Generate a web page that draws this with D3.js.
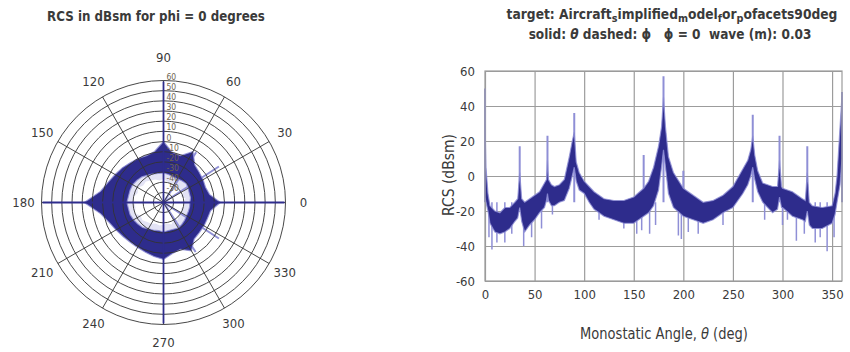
<!DOCTYPE html>
<html>
<head>
<meta charset="utf-8">
<script src="https://cdn.jsdelivr.net/npm/d3@7"></script>
<style>
  html, body { margin: 0; padding: 0; background: #fff; }
  svg { display: block; }
  text { font-family: "DejaVu Sans", "Liberation Sans", sans-serif; font-stretch: condensed; fill: #3a3a3a; white-space: pre; }
</style>
</head>
<body>
<svg id="chart" width="850" height="352"></svg>
<script>
// polar plot (left), dB per angle
const polarAngles = [0, 10, 20, 30, 40, 50, 60, 70, 80, 90, 100, 110, 120, 130, 140, 150, 160, 170,
  180, 190, 200, 210, 220, 230, 240, 250, 260, 270, 280, 290, 300, 310, 320, 330, 340, 350]
const polarOuter = [-4, -14, -16, -15, -14, -12, -2, -11, -10, 0, -9, -11, -10, -9, -7, -5, -2, 3,
  18, 3, -3, -6, -8, -9, -9, -8, -6, -4, -9, -11, -5, -13, -14, -14, -14, -13]
const polarInner = [-34, -33, -33, -32, -31, -32, -33, -33, -32, -31, -31, -30, -29, -27, -26, -25, -25, -25,
  -24, -25, -25, -26, -27, -28, -30, -31, -32, -31, -32, -32, -31, -32, -33, -34, -34, -34]
const polarHaze = [-40, -38, -42, -36, -40, -44, -38, -40, -39, -37, -38, -36, -35, -33, -34, -31, -33, -30,
  -31, -32, -30, -34, -33, -35, -36, -38, -37, -38, -39, -37, -40, -38, -41, -39, -42, -40]
const polarSpikeAngles = [0, 90, 180, 270]
const polarSpikeValues = [59, 59, 59, 59]
const polarLightAngles = [33, 327, 57, 303]
const polarLightValues = [5, 5, -1, -2]
const polarTicks = [0, 30, 60, 90, 120, 150, 180, 210, 240, 270, 300, 330]
const ringValues = [-50, -40, -30, -20, -10, 0, 10, 20, 30, 40, 50, 60]

// monostatic sweep (right), dark band edges
const rcsAngles = [0, 1, 3, 5, 10, 15, 20, 25, 30, 33, 35, 37, 40, 45, 50, 55, 60, 62, 63, 64,
  67, 70, 75, 80, 85, 88, 90, 92, 95, 100, 105, 110, 120, 130, 140, 150, 160, 165, 170, 175,
  178, 180, 182, 185, 190, 200, 210, 220, 230, 240, 250, 260, 265, 268, 270, 272, 275, 280, 290, 295,
  297, 299, 300, 310, 320, 323, 325, 327, 330, 340, 350, 353, 355, 358, 360]
const rcsUpper = [30, 5, -10, -17, -20, -21, -18, -18, -15, -13, 2, -13, -15, -13, -11, -9, -4, -2, 9, -2,
  -5, -6, -5, -2, 11, 20, 25, 8, 2, -3, -6, -9, -13, -14, -14, -12, -7, -3, 5, 17,
  28, 45, 28, 11, 2, -7, -11, -15, -14, -11, -6, 4, 9, 15, 23, 12, 3, -4, -6, -6,
  9, -6, -7, -9, -13, -14, 2, -15, -17, -18, -17, -10, 0, 28, 46]
const rcsLower = [-12, -15, -20, -27, -32, -33, -32, -30, -26, -24, -18, -26, -32, -28, -25, -21, -18, -14, -10, -14,
  -17, -17, -15, -14, -7, 0, 5, -3, -8, -10, -15, -19, -23, -25, -27, -27, -23, -21, -17, -8,
  5, 15, 5, -10, -18, -23, -25, -27, -25, -21, -18, -10, -5, 0, 5, -2, -9, -15, -21, -19,
  -12, -18, -18, -23, -25, -26, -20, -28, -30, -30, -27, -22, -15, -5, 10]
// faint strokes above / below the band
const peakAngles = [0, 35, 63, 90, 160, 180, 200, 270, 297, 325, 360]
const peakTops = [50, 17, 23, 36, 12, 57, 3, 35, 23, 17, 48]
const dipAngles = [4, 7, 12, 20, 27, 39, 47, 57, 68, 115, 140, 153, 158, 166, 172, 195, 198, 205, 215, 240,
  282, 300, 305, 314, 322, 333, 338, 345, 352]
const dipBottoms = [-35, -42, -38, -38, -33, -40, -35, -30, -22, -25, -30, -33, -31, -33, -28, -34, -36, -32, -33, -28,
  -25, -28, -25, -37, -33, -38, -35, -43, -35]
const xTicks = [0, 50, 100, 150, 200, 250, 300, 350]
const yTicks = [-60, -40, -20, 0, 20, 40, 60]

const DARK = '#2e2c8c'
const LIGHT = '#8f8fd6'
const GRID = '#9c9c9c'

const svg = d3.select('#chart')

// squeeze a text element to the width it has in the picture
function fitText(sel, cx, cy, width, rotate) {
  const w = sel.node().getComputedTextLength()
  const k = width / w
  sel.attr('x', 0).attr('y', 0)
    .attr('transform', `translate(${cx},${cy})${rotate ? ` rotate(${rotate})` : ''} scale(${k},1)`)
}

// ---------- polar ----------
const cx = 163.5, cy = 202.5, R = 122
const rScale = d3.scaleLinear().domain([-60, 60]).range([0, R])
const toRad = d => (90 - d) * Math.PI / 180
const gPolar = svg.append('g').attr('transform', `translate(${cx},${cy})`)

const ring = vals => d3.lineRadial()
  .angle(i => toRad(polarAngles[i]))
  .radius(i => rScale(vals[i]))
  .curve(d3.curveLinearClosed)(d3.range(polarAngles.length))

// faint inner fringe
gPolar.append('path')
  .attr('d', ring(polarInner) + ring(polarHaze))
  .attr('fill', LIGHT).attr('fill-opacity', 0.25).attr('fill-rule', 'evenodd')

polarLightAngles.forEach((a, i) => {
  gPolar.append('line')
    .attr('x1', 0).attr('y1', 0)
    .attr('x2', rScale(polarLightValues[i]) * Math.cos(a * Math.PI / 180))
    .attr('y2', -rScale(polarLightValues[i]) * Math.sin(a * Math.PI / 180))
    .attr('stroke', LIGHT).attr('stroke-width', 2)
})

gPolar.append('path')
  .attr('d', ring(polarOuter) + ring(polarInner))
  .attr('fill', DARK).attr('fill-rule', 'evenodd')
  .attr('stroke', LIGHT).attr('stroke-width', 1.2).attr('stroke-opacity', 0.8)

// grid
ringValues.forEach(v => {
  gPolar.append('circle').attr('r', rScale(v))
    .attr('fill', 'none').attr('stroke', '#333').attr('stroke-width', 0.9)
})
polarTicks.forEach(a => {
  gPolar.append('line')
    .attr('x1', 0).attr('y1', 0)
    .attr('x2', R * Math.cos(a * Math.PI / 180))
    .attr('y2', -R * Math.sin(a * Math.PI / 180))
    .attr('stroke', '#333').attr('stroke-width', 0.9)
})

polarSpikeAngles.forEach((a, i) => {
  gPolar.append('line')
    .attr('x1', 0).attr('y1', 0)
    .attr('x2', rScale(polarSpikeValues[i]) * Math.cos(a * Math.PI / 180))
    .attr('y2', -rScale(polarSpikeValues[i]) * Math.sin(a * Math.PI / 180))
    .attr('stroke', DARK).attr('stroke-width', 1.8)
})

ringValues.forEach(v => {
  gPolar.append('text')
    .attr('x', 3).attr('y', -rScale(v) - 1)
    .attr('font-size', 8.5).style('fill', '#6e6450')
    .text(v)
})

polarTicks.forEach(a => {
  const rr = a === 90 ? 145 : 140
  gPolar.append('text')
    .attr('x', rr * Math.cos(a * Math.PI / 180))
    .attr('y', -rr * Math.sin(a * Math.PI / 180))
    .attr('text-anchor', 'middle').attr('dominant-baseline', 'central')
    .attr('font-size', 13)
    .text(a)
})

const t1 = svg.append('text')
  .attr('text-anchor', 'middle').attr('font-size', 14).attr('font-weight', 'bold')
  .text('RCS in dBsm for phi = 0 degrees')
fitText(t1, 156, 21, 218)

// ---------- cartesian ----------
const x = d3.scaleLinear().domain([0, 360]).range([485, 842])
const y = d3.scaleLinear().domain([-60, 60]).range([281, 71])
const gPlot = svg.append('g')

gPlot.append('g')
  .attr('transform', `translate(0,${y(-60)})`)
  .call(d3.axisBottom(x).tickValues(xTicks).tickFormat(d => String(d))
    .tickSize(-(y(-60) - y(60))).tickPadding(9))
  .call(g => g.select('.domain').remove())
  .call(g => g.selectAll('line').attr('stroke', GRID).attr('stroke-width', 1.2))
  .call(g => g.selectAll('text').attr('font-size', 13).style('fill', '#3a3a3a'))

gPlot.append('g')
  .attr('transform', `translate(${x(0)},0)`)
  .call(d3.axisLeft(y).tickValues(yTicks).tickFormat(d => String(d))
    .tickSize(-(x(360) - x(0))).tickPadding(10))
  .call(g => g.select('.domain').remove())
  .call(g => g.selectAll('line').attr('stroke', GRID).attr('stroke-width', 1.2))
  .call(g => g.selectAll('text').attr('font-size', 13).style('fill', '#3a3a3a'))
gPlot.selectAll('g').attr('font-family', null)

// faint strokes
peakAngles.forEach((a, i) => {
  gPlot.append('line')
    .attr('x1', x(a)).attr('x2', x(a))
    .attr('y1', y(peakTops[i])).attr('y2', y(-15))
    .attr('stroke', LIGHT).attr('stroke-width', 2)
})
dipAngles.forEach((a, i) => {
  gPlot.append('line')
    .attr('x1', x(a)).attr('x2', x(a))
    .attr('y1', y(dipBottoms[i])).attr('y2', y(-15))
    .attr('stroke', LIGHT).attr('stroke-width', 1.5)
})

const band = d3.area()
  .x(i => x(rcsAngles[i]))
  .y0(i => y(rcsLower[i]))
  .y1(i => y(rcsUpper[i]))
gPlot.append('path')
  .attr('d', band(d3.range(rcsAngles.length)))
  .attr('fill', DARK)
  .attr('stroke', LIGHT).attr('stroke-width', 1.2).attr('stroke-opacity', 0.8)

gPlot.append('rect')
  .attr('x', x(0)).attr('y', y(60))
  .attr('width', x(360) - x(0)).attr('height', y(-60) - y(60))
  .attr('fill', 'none').attr('stroke', GRID).attr('stroke-width', 1.2)

// titles
const l1 = svg.append('text').attr('text-anchor', 'middle').attr('font-size', 14).attr('font-weight', 'bold')
const parts = [['target: Aircraft', false], ['s', true], ['implified', false], ['m', true], ['odel', false],
  ['f', true], ['or', false], ['p', true], ['ofacets90deg', false]]
let shift = 0
parts.forEach(([s, sub]) => {
  const want = sub ? 3 : 0
  l1.append('tspan').text(s)
    .attr('font-size', sub ? 11 : 14)
    .attr('dy', want - shift)
  shift = want
})
fitText(l1, 672, 19, 331)

const l2 = svg.append('text').attr('text-anchor', 'middle').attr('font-size', 14).attr('font-weight', 'bold')
l2.append('tspan').text('solid: ')
l2.append('tspan').text('θ').attr('font-style', 'italic')
l2.append('tspan').text(' dashed: ϕ\u00a0\u00a0\u00a0ϕ = 0\u00a0\u00a0wave (m): 0.03')
fitText(l2, 670, 39, 283)

const xt = svg.append('text').attr('text-anchor', 'middle').attr('font-size', 16)
xt.append('tspan').text('Monostatic Angle, ')
xt.append('tspan').text('θ').attr('font-style', 'italic')
xt.append('tspan').text(' (deg)')
fitText(xt, 664, 339, 168)

const yt = svg.append('text').attr('text-anchor', 'middle').attr('font-size', 15)
  .text('RCS (dBsm)')
fitText(yt, 454, 175, 82, -90)
</script>
</body>
</html>
